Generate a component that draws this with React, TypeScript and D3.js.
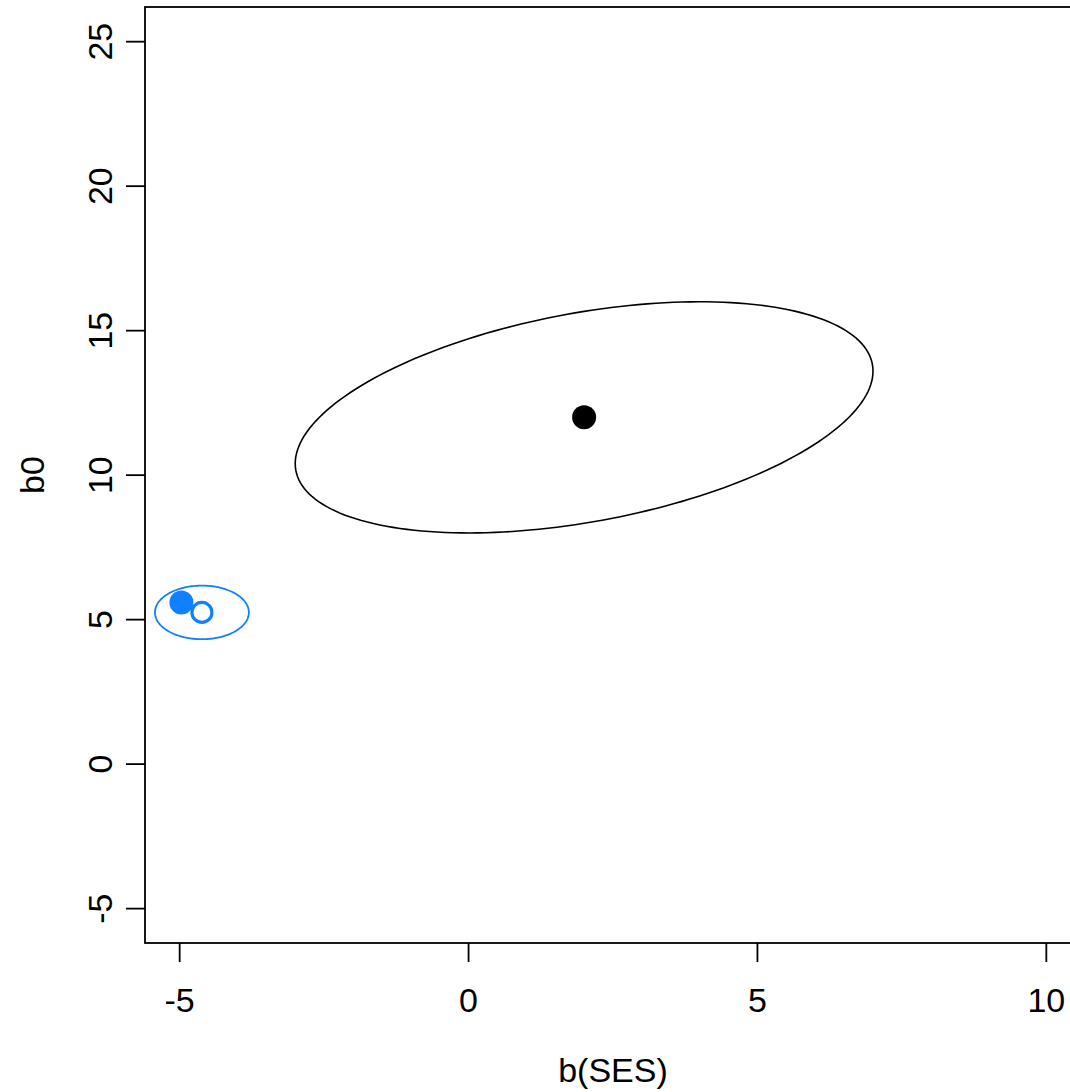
import React from "react";
import * as d3 from "d3";

// ---- data ----
const xTicks = [-5, 0, 5, 10];
const yTicks = [-5, 0, 5, 10, 15, 20, 25];
const xDomain = [-5.6, 10.6];
const yDomain = [-6.19, 26.2];

// black group: mean point and covariance ellipse
const blackCenter = [2, 12];
const blackCov = [25, 8, 16]; // s11, s12, s22
// blue group
const blueCenter = [-4.615, 5.25];
const blueCov = [0.66, 0, 0.86];
const blueFilledPoint = [-4.97, 5.59];
const blueOpenPoint = [-4.615, 5.25];

const BLUE = "#0F80FF";
const FONT = "'Liberation Sans', Arial, Helvetica, sans-serif";

const W = 1070;
const H = 1092;
const left = 145;
const right = 1081;
const top = 7;
const bottom = 943;

function ellipsePoints(c: number[], cov: number[]) {
  const [s11, s12, s22] = cov;
  const l11 = Math.sqrt(s11);
  const l21 = s12 / l11;
  const l22 = Math.sqrt(Math.max(s22 - l21 * l21, 0));
  const n = 200;
  return d3.range(n + 1).map((i) => {
    const t = (2 * Math.PI * i) / n;
    const u = Math.cos(t);
    const v = Math.sin(t);
    return [c[0] + l11 * u, c[1] + l21 * u + l22 * v];
  });
}

export default function App() {
  const x = d3.scaleLinear().domain(xDomain).range([left, right]);
  const y = d3.scaleLinear().domain(yDomain).range([bottom, top]);
  const line = d3
    .line<number[]>()
    .x((d) => x(d[0]))
    .y((d) => y(d[1]))
    .curve(d3.curveLinearClosed);

  const blackPath = line(ellipsePoints(blackCenter, blackCov)) || "";
  const bluePath = line(ellipsePoints(blueCenter, blueCov)) || "";

  return (
    <div style={{ position: "absolute", left: 0, top: 0 }}>
      <svg width={W} height={H} style={{ display: "block", background: "#fff" }}>
        <rect x={0} y={0} width={W} height={H} fill="#fff" />
        {/* plot box */}
        <rect
          x={left}
          y={top}
          width={right - left}
          height={bottom - top}
          fill="none"
          stroke="#000"
          strokeWidth={1.8}
        />
        {/* x axis */}
        {xTicks.map((t) => (
          <g key={"xt" + t}>
            <line x1={x(t)} x2={x(t)} y1={bottom} y2={bottom + 19} stroke="#000" strokeWidth={1.8} />
            <text
              x={x(t)}
              y={1012}
              textAnchor="middle"
              fontFamily={FONT}
              fontSize={34}
              fill="#000"
            >
              {t}
            </text>
          </g>
        ))}
        {/* y axis */}
        {yTicks.map((t) => (
          <g key={"yt" + t}>
            <line x1={left - 19} x2={left} y1={y(t)} y2={y(t)} stroke="#000" strokeWidth={1.8} />
            <text
              transform={`translate(112,${y(t)}) rotate(-90)`}
              textAnchor="middle"
              fontFamily={FONT}
              fontSize={34}
              fill="#000"
            >
              {t}
            </text>
          </g>
        ))}
        <text
          x={(left + right) / 2}
          y={1082}
          textAnchor="middle"
          fontFamily={FONT}
          fontSize={34}
          fill="#000"
        >
          b(SES)
        </text>
        <text
          transform={`translate(44,${(top + bottom) / 2}) rotate(-90)`}
          textAnchor="middle"
          fontFamily={FONT}
          fontSize={34}
          fill="#000"
        >
          b0
        </text>

        {/* ellipses */}
        <path d={blackPath} fill="none" stroke="#000" strokeWidth={1.6} />
        <path d={bluePath} fill="none" stroke={BLUE} strokeWidth={1.8} />

        {/* points */}
        <circle cx={x(blackCenter[0])} cy={y(blackCenter[1])} r={12} fill="#000" />
        <circle cx={x(blueFilledPoint[0])} cy={y(blueFilledPoint[1])} r={12} fill={BLUE} />
        <circle
          cx={x(blueOpenPoint[0])}
          cy={y(blueOpenPoint[1])}
          r={10}
          fill="#fff"
          stroke={BLUE}
          strokeWidth={3.2}
        />
      </svg>
    </div>
  );
}
